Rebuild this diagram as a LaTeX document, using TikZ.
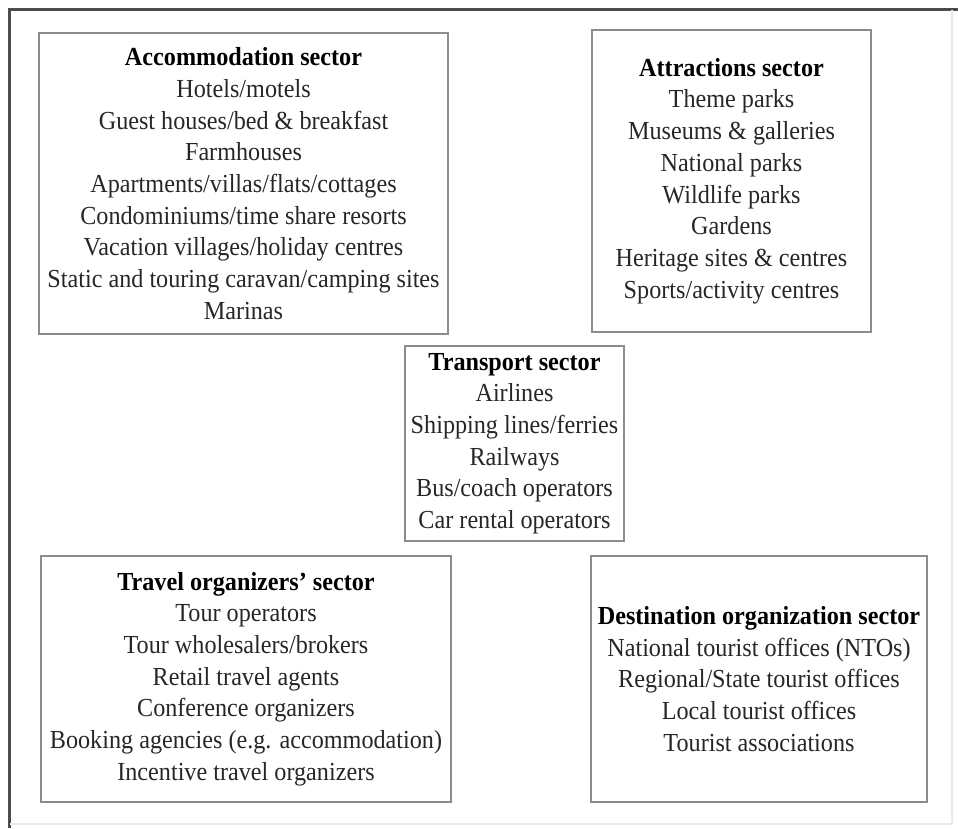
\documentclass[tikz,border=0pt]{standalone}
\usepackage{fontspec}
\setmainfont[FakeStretch=0.93]{Liberation Serif}

\begin{document}
\begin{tikzpicture}[x=1pt, y=-1pt,
    mybox/.style={draw=black!45, line width=2pt, align=center, inner sep=0pt,
      text=black!85, font=\fontsize{26}{31.7}\selectfont},
    mysize/.style 2 args={minimum width=#1, minimum height=#2}]
\useasboundingbox (0,0) rectangle (958,828);

% outer frame
\draw[black!70, line width=2.5pt] (9.5,828) -- (9.5,9.5) -- (958,9.5);
\draw[black!8, line width=1.5pt] (952,9.5) -- (952,824) -- (9.5,824);

\node[mybox, mysize={409pt}{301pt}] (acc) at (243.5,183.5)
  {\textbf{\color{black}Accommodation sector}\\ Hotels/motels\\ Guest houses/bed \& breakfast\\
   Farmhouses\\ Apartments/villas/flats/cottages\\ Condominiums/time share resorts\\
   Vacation villages/holiday centres\\ Static and touring caravan/camping sites\\ Marinas};
\node[mybox, mysize={279pt}{302pt}] (attr) at (731.5,181)
  {\textbf{\color{black}Attractions sector}\\ Theme parks\\ Museums \& galleries\\ National parks\\
   Wildlife parks\\ Gardens\\ Heritage sites \& centres\\ Sports/activity centres};
\node[mybox, mysize={219pt}{195pt}] (trans) at (514.5,443.5)
  {\textbf{\color{black}Transport sector}\\ Airlines\\ Shipping lines/ferries\\ Railways\\
   Bus/coach operators\\ Car rental operators};
\node[mybox, mysize={410pt}{246pt}] (trav) at (246,679)
  {\textbf{\color{black}Travel organizers' sector}\\ Tour operators\\ Tour wholesalers/brokers\\
   Retail travel agents\\ Conference organizers\\ Booking agencies (e.g. accommodation)\\
   Incentive travel organizers};
\node[mybox, mysize={336pt}{246pt}] (dest) at (759,679)
  {\textbf{\color{black}Destination organization sector}\\ National tourist offices (NTOs)\\
   Regional/State tourist offices\\ Local tourist offices\\ Tourist associations};
\end{tikzpicture}
\end{document}
